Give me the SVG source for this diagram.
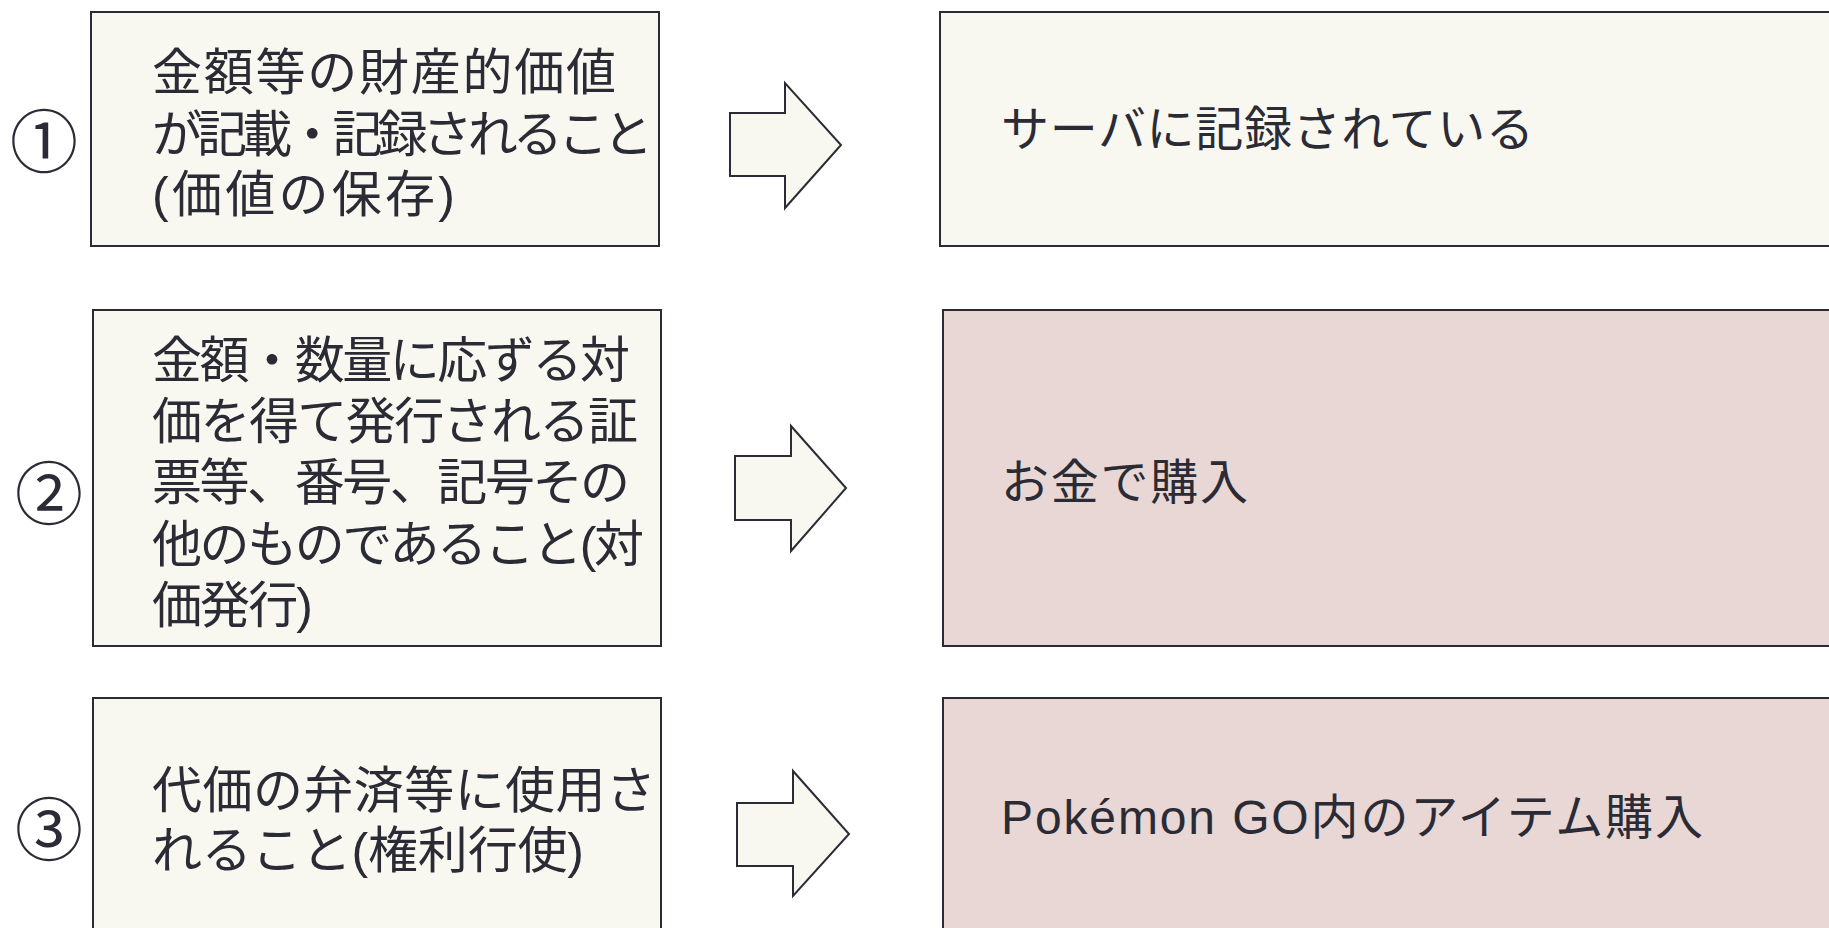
<svg xmlns="http://www.w3.org/2000/svg" width="1829" height="928" viewBox="0 0 1829 928">
<style>
.box{fill:#f8f8f0;stroke:#2b2b35;stroke-width:2}
.pink{fill:#e8d7d4;stroke:#2b2b35;stroke-width:2}
.arrow{fill:#f8f8f0;stroke:#2b2b35;stroke-width:2;stroke-linejoin:miter}
.t{font-family:"Liberation Sans","Noto Sans CJK JP",sans-serif;font-size:50px;fill:#2b2b36}
.r{font-family:"Liberation Sans","Noto Sans CJK JP",sans-serif;font-size:48px;fill:#2b2b36}
.num{font-family:"Noto Sans CJK JP","DejaVu Sans",sans-serif;font-size:68px;fill:#2b2b36;text-anchor:middle}
</style>
<rect width="1829" height="928" fill="#ffffff"/>
<g id="num1"><text class="num" x="44" y="167">①</text></g>
<g id="num2"><text class="num" x="49" y="519">②</text></g>
<g id="num3"><text class="num" x="49" y="855">③</text></g>
<g id="left1">
<rect class="box" x="91" y="12" width="568" height="234"/>
<text class="t"><tspan x="152" y="90" textLength="464">金額等の財産的価値</tspan><tspan x="152" y="152" textLength="501">が記載・記録されること</tspan><tspan x="152" y="212" textLength="303">(価値の保存)</tspan></text>
</g>
<g id="left2">
<rect class="box" x="93" y="310" width="568" height="336"/>
<text class="t"><tspan x="152" y="378" textLength="478">金額・数量に応ずる対</tspan><tspan x="152" y="439" textLength="486">価を得て発行される証</tspan><tspan x="152" y="500" textLength="478">票等、番号、記号その</tspan><tspan x="152" y="562" textLength="492">他のものであること(対</tspan><tspan x="152" y="623" textLength="161">価発行)</tspan></text>
</g>
<g id="left3">
<rect class="box" x="93" y="698" width="568" height="260"/>
<text class="t"><tspan x="152" y="808" textLength="504">代価の弁済等に使用さ</tspan><tspan x="152" y="868" textLength="432">れること(権利行使)</tspan></text>
</g>
<g id="connectors">
<polygon class="arrow" points="730,113 785,113 785,83 841,145 785,208 785,176 730,176"/>
<polygon class="arrow" points="735,456 791,456 791,426 846,488 791,551 791,520 735,520"/>
<polygon class="arrow" points="737,803 793,803 793,771 849,834 793,896 793,866 737,866"/>
</g>
<g id="right1">
<rect class="box" x="940" y="12" width="1000" height="234"/>
<text class="r" x="1001" y="146" textLength="533">サーバに記録されている</text>
</g>
<g id="right2">
<rect class="pink" x="943" y="310" width="1000" height="336"/>
<text class="r" x="1001" y="499" textLength="247">お金で購入</text>
</g>
<g id="right3">
<rect class="pink" x="943" y="698" width="1000" height="260"/>
<text class="r" x="1001" y="834" textLength="702">Pokémon GO内のアイテム購入</text>
</g>
</svg>
